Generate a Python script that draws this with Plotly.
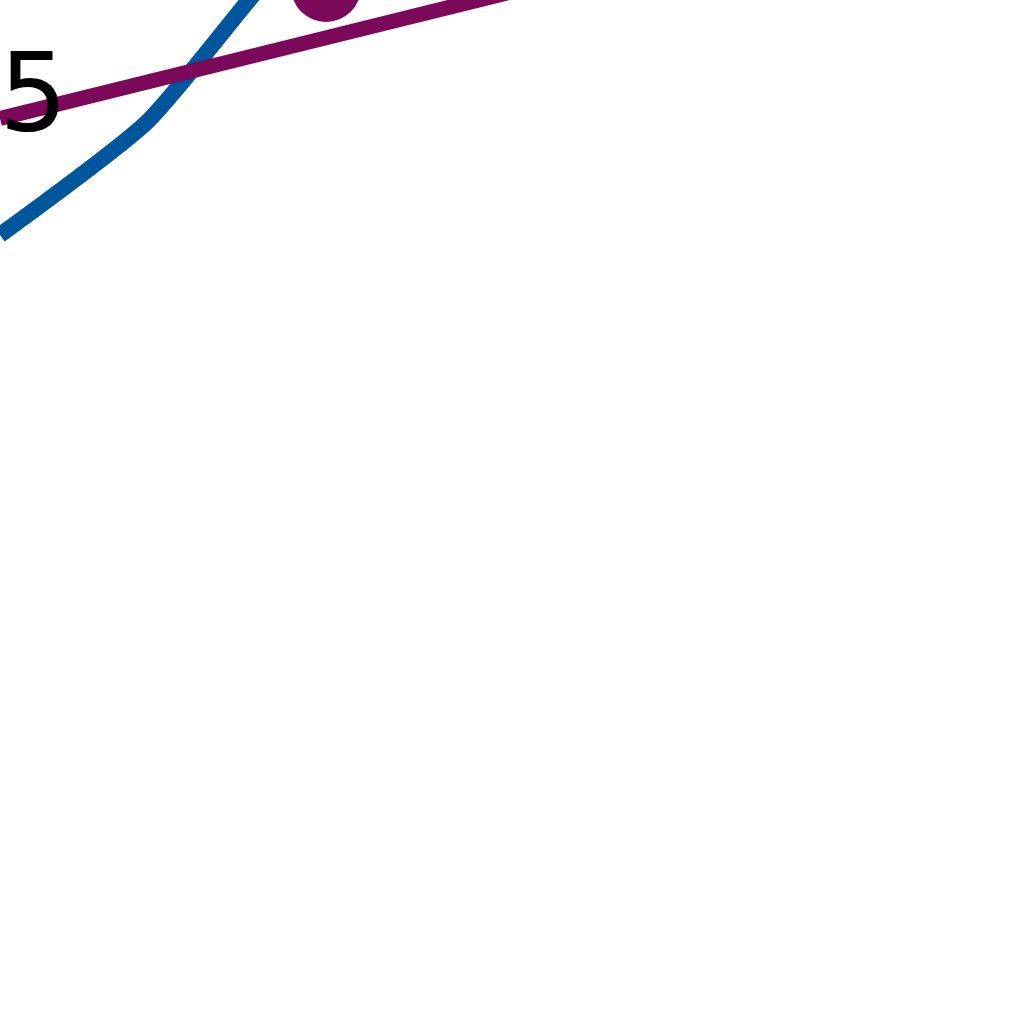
import plotly.graph_objects as go

# Data (axis units span 0..10.24)
blue_x = [0.0, 1.47, 2.49, 3.00]
blue_y = [7.89, 9.02, 10.24, 10.83]

purple_x = [0.0, 6.00]
purple_y = [9.055, 10.54]

purple_marker_x = [3.26]
purple_marker_y = [10.37]

tick_label = "5"

BLUE = "#00569c"
PURPLE = "#7b0858"

fig = go.Figure()
fig.add_trace(go.Scatter(x=blue_x, y=blue_y, mode="lines",
                         line=dict(color=BLUE, width=16, shape="spline", smoothing=0.6),
                         showlegend=False))
fig.add_trace(go.Scatter(x=purple_x, y=purple_y, mode="lines",
                         line=dict(color=PURPLE, width=15), showlegend=False))
fig.add_trace(go.Scatter(x=purple_marker_x, y=purple_marker_y, mode="markers",
                         marker=dict(color=PURPLE, size=70, line=dict(width=0)),
                         showlegend=False))

fig.add_annotation(text=tick_label, xref="paper", yref="paper", x=0, y=1 - 157 / 1024,
                   xanchor="left", yanchor="bottom", xshift=-3, showarrow=False,
                   font=dict(family="DejaVu Sans", size=108, color="black"))

fig.update_layout(width=1024, height=1024, margin=dict(l=0, r=0, t=0, b=0),
                  paper_bgcolor="white", plot_bgcolor="white")
fig.update_xaxes(range=[0, 10.24], visible=False)
fig.update_yaxes(range=[0, 10.24], visible=False)

fig.write_html("out.html")
